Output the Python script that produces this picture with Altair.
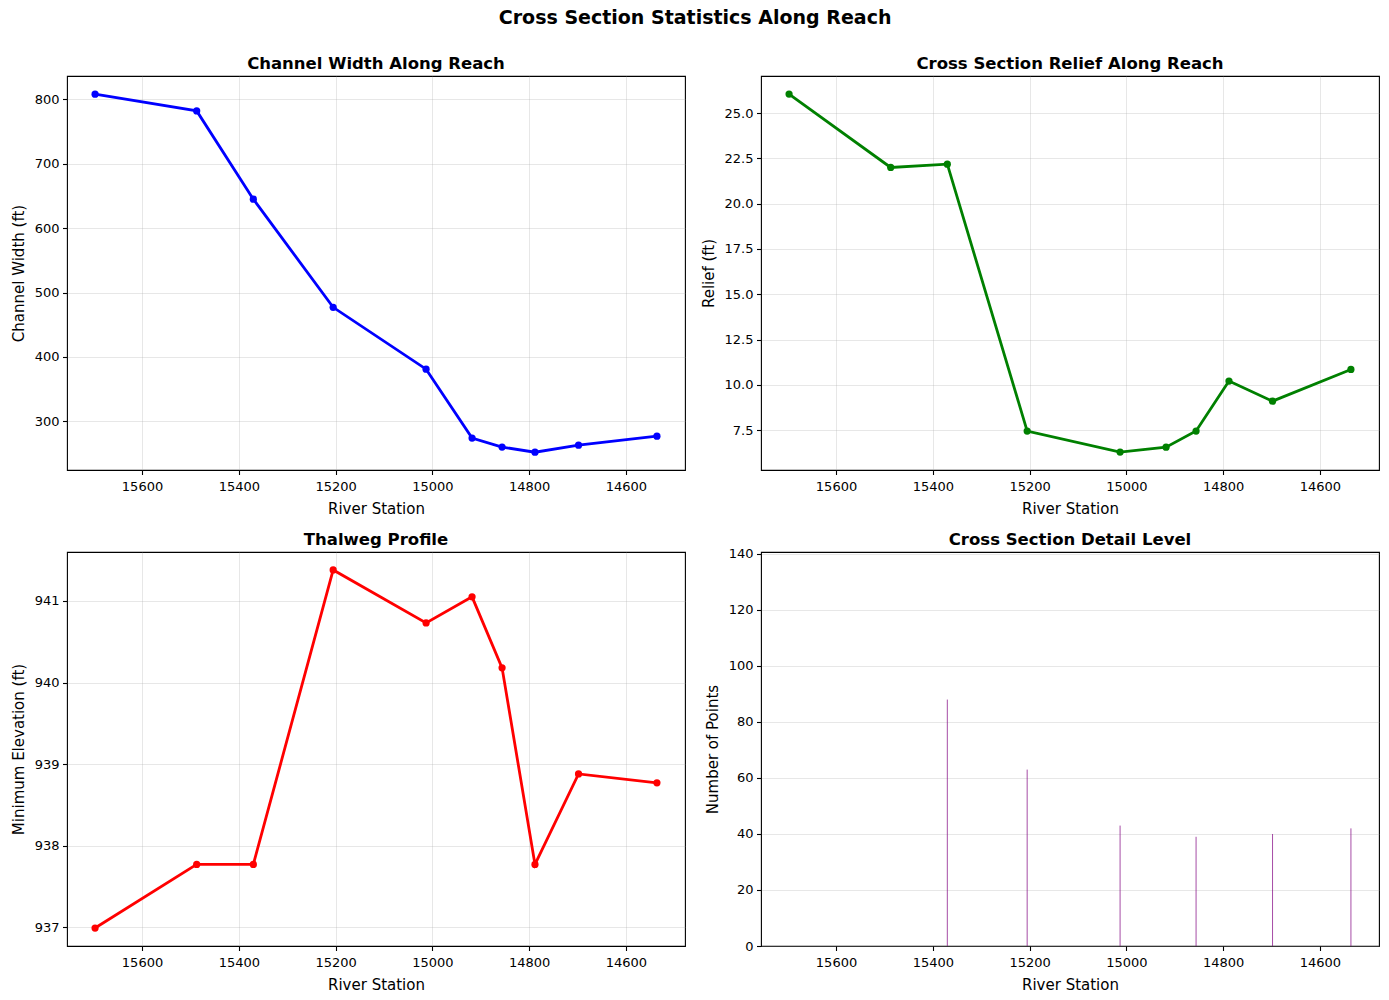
import altair as alt
import pandas as pd

# ---- data ----
stations = [15697, 15487, 15370, 15205, 15013, 14918, 14856, 14788, 14698, 14536]
channel_width = [808, 782, 645, 477, 381, 274, 260, 252, 263, 277]
relief = [26.05, 22.0, 22.18, 7.45, 6.29, 6.56, 7.45, 10.21, 9.10, 10.85]
min_elev = [936.99, 937.77, 937.77, 941.38, 940.73, 941.05, 940.18, 937.77, 938.88, 938.77]
detail_stations = [15370, 15205, 15013, 14856, 14698, 14536]
detail_points = [88, 63, 43, 39, 40, 42]
x_ticks = [15600, 15400, 15200, 15000, 14800, 14600]

df = pd.DataFrame({"station": stations, "width": channel_width,
                   "relief": relief, "elev": min_elev})
df_detail = pd.DataFrame({"station": detail_stations, "points": detail_points})

FONT = "DejaVu Sans"
W, H = 618, 394
xscale = alt.Scale(domain=[14478, 15755], reverse=True, nice=False, zero=False)


def xenc(grid=True):
    return alt.X("station:Q", scale=xscale, title="River Station",
                 axis=alt.Axis(values=x_ticks, format="d", grid=grid,
                               labelPadding=6, titlePadding=8))


def title(t, offset=4):
    return alt.TitleParams(t, font=FONT, fontSize=16.5, fontWeight="bold",
                           color="black", offset=offset)


def line_panel(field, color, ytitle, ttl, domain, yticks, fmt):
    y = alt.Y(f"{field}:Q", title=ytitle,
              scale=alt.Scale(domain=domain, nice=False, zero=False),
              axis=alt.Axis(values=yticks, format=fmt))
    base = alt.Chart(df).encode(x=xenc(), y=y)
    ln = base.mark_line(color=color, strokeWidth=2.8)
    pt = base.mark_point(color=color, filled=True, size=52, opacity=1)
    return (ln + pt).properties(width=W, height=H, title=title(ttl))


p1 = line_panel("width", "blue", "Channel Width (ft)", "Channel Width Along Reach",
                [224.4, 836.2], [300, 400, 500, 600, 700, 800], "d")
p2 = line_panel("relief", "green", "Relief (ft)", "Cross Section Relief Along Reach",
                [5.30, 27.05], [7.5, 10, 12.5, 15, 17.5, 20, 22.5, 25], ".1f")
p3 = line_panel("elev", "red", "Minimum Elevation (ft)", "Thalweg Profile",
                [936.77, 941.60], [937, 938, 939, 940, 941], "d")

p4 = alt.Chart(df_detail).mark_rule(color="purple", opacity=0.7, strokeWidth=1).encode(
    x=xenc(grid=False),
    y=alt.Y("points:Q", title="Number of Points",
            scale=alt.Scale(domain=[0, 140.7], nice=False),
            axis=alt.Axis(values=[0, 20, 40, 60, 80, 100, 120, 140], format="d")),
    y2=alt.datum(0),
).properties(width=W, height=H, title=title("Cross Section Detail Level", offset=-1))

chart = alt.concat(p1, p2, p3, p4, columns=2,
                   spacing={"row": 82, "column": 76}, bounds="flush").properties(
    title=alt.TitleParams("Cross Section Statistics Along Reach", font=FONT,
                          fontSize=19, fontWeight="bold", color="black",
                          anchor="middle", offset=27),
    padding={"left": 10, "top": 8, "right": 5, "bottom": 5},
    background="white",
).configure_view(
    stroke="black", strokeWidth=1.1
).configure_axis(
    labelFont=FONT, labelFontSize=13, labelColor="black",
    titleFont=FONT, titleFontSize=15, titleFontWeight="normal", titleColor="black",
    tickColor="black", tickSize=4.5, tickWidth=1.1, labelPadding=3.5,
    domain=False, gridColor="#b0b0b0", gridOpacity=0.3, gridWidth=1,
    titlePadding=8,
)

chart.save("out.html", embed_options={"renderer": "svg", "actions": False})
